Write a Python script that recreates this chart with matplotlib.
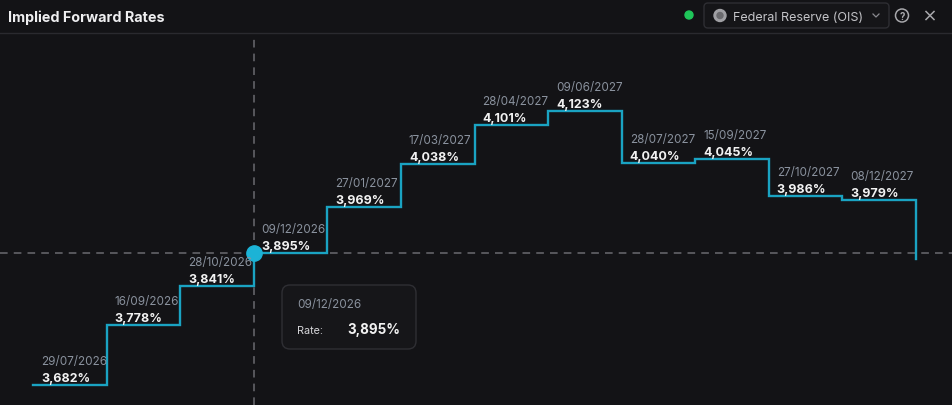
import matplotlib
matplotlib.use("Agg")
import matplotlib.pyplot as plt
from matplotlib.patches import FancyBboxPatch, Circle

# ---- data ----
dates = ["29/07/2026", "16/09/2026", "28/10/2026", "09/12/2026", "27/01/2027",
         "17/03/2027", "28/04/2027", "09/06/2027", "28/07/2027", "15/09/2027",
         "27/10/2027", "08/12/2027"]
rates = [3.682, 3.778, 3.841, 3.895, 3.969, 4.038, 4.101, 4.123, 4.040, 4.045,
         3.986, 3.979]
tail_rate = 3.885          # unlabeled end of the curve
hover_index = 3
title = "Implied Forward Rates"
source = "Federal Reserve (OIS)"

W, H = 952, 406
DPI = 100
BG = "#131316"
LINE = "#1aa3c2"
DATE_C = "#8a929e"
VAL_C = "#f2f2f2"
GRID_C = "#6a6a70"

plt.rcParams['font.family'] = ['Inter', 'DejaVu Sans']

fig = plt.figure(figsize=(W / DPI, H / DPI), dpi=DPI, facecolor=BG)

# chart axes: from pixel y=34 to 406
ax = fig.add_axes([0, 0, 1, (H - 34) / H])
ax.set_facecolor(BG)
ax.axis("off")

n = len(rates)
xs = list(range(n + 1))
ys = rates + [tail_rate]
px_per_idx = (916 - 33) / n
ax.set_xlim(-33 / px_per_idx, n + (W - 916) / px_per_idx)
px_per_unit = (386 - 112) / (4.123 - 3.682)
ax.set_ylim(3.682 - (406 - 386) / px_per_unit, 4.123 + (112 - 34) / px_per_unit)

# crosshair
hx, hy = hover_index, rates[hover_index]
ax.axhline(hy, color=GRID_C, lw=1.1, ls=(0, (5, 4)), zorder=1)
ax.axvline(hx, color=GRID_C, lw=1.1, ls=(0, (5, 4)), zorder=1)

ax.plot(xs, ys, drawstyle="steps-post", color=LINE, lw=1.7, zorder=3,
        solid_joinstyle="miter")
ax.plot([hx], [hy], "o", ms=11, color="#1cb3d6", zorder=4, mec="#1cb3d6")

for i, (d, r) in enumerate(zip(dates, rates)):
    ax.annotate(d, (i, r), xytext=(8, 21), textcoords="offset pixels",
                color=DATE_C, fontsize=8.4, ha="left", va="baseline", zorder=5)
    ax.annotate(f"{r:.3f}%".replace(".", ","), (i, r), xytext=(8, 4),
                textcoords="offset pixels", color=VAL_C, fontsize=9,
                fontweight="bold", ha="left", va="baseline", zorder=5)

# overlay axes in pixel coordinates for UI chrome
ov = fig.add_axes([0, 0, 1, 1], zorder=10)
ov.set_xlim(0, W)
ov.set_ylim(H, 0)
ov.axis("off")
ov.patch.set_alpha(0)

# tooltip
ov.add_patch(FancyBboxPatch((282, 286), 134, 64,
                            boxstyle="round,pad=0,rounding_size=8",
                            facecolor="#161619", edgecolor="#2f2f34", lw=1))
ov.text(297, 308, dates[hover_index], color=DATE_C, fontsize=8.4,
        va="baseline")
ov.text(297, 334, "Rate:", color="#d6d6da", fontsize=7.8, va="baseline")
ov.text(400, 334, f"{rates[hover_index]:.3f}%".replace(".", ","),
        color=VAL_C, fontsize=9.7, fontweight="bold", ha="right",
        va="baseline")

# header
ov.text(8, 22, title, color="#eeeef0", fontsize=10.3, fontweight="bold",
        va="baseline")
ov.plot([0, W], [33.5, 33.5], color="#2a2a2f", lw=1)
ov.add_patch(Circle((689, 16), 4, color="#1fc65a"))
ov.add_patch(FancyBboxPatch((704, 4), 185, 25,
                            boxstyle="round,pad=0,rounding_size=4",
                            facecolor="#151518", edgecolor="#2e2e33", lw=1))
ov.add_patch(Circle((720, 16.5), 6, color="#a0a0a4", zorder=3))
ov.add_patch(Circle((720, 16.5), 3, color="#6a6a6e", zorder=4))
ov.text(733, 21, source, color="#c4c4c8", fontsize=9, va="baseline")
ov.plot([873, 876, 879], [15, 18, 15], color="#8a8a90", lw=0.9)
ov.add_patch(Circle((902, 16.5), 6.5, facecolor="none", edgecolor="#a8a8ac",
                    lw=1.1))
ov.text(902, 17, "?", color="#a8a8ac", fontsize=7, ha="center",
        va="center", fontweight="bold")
ov.plot([926, 934], [12.5, 20.5], color="#a8a8ac", lw=1.1)
ov.plot([926, 934], [20.5, 12.5], color="#a8a8ac", lw=1.1)

fig.savefig("out.png", dpi=DPI, facecolor=BG)
